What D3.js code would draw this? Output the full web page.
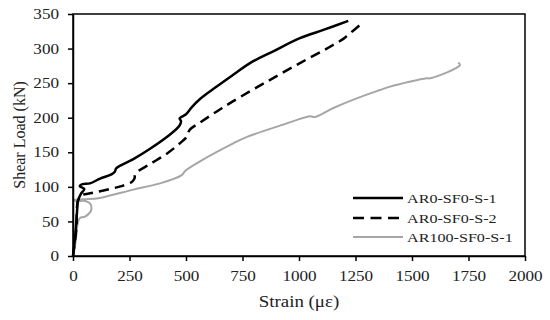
<!DOCTYPE html>
<html><head><meta charset="utf-8">
<script src="https://cdn.jsdelivr.net/npm/d3@7"></script>
<style>body{margin:0;background:#fff}svg{display:block}</style>
</head><body>
<svg id="c" width="550" height="320"></svg>
<script>
const xTicks = [0,250,500,750,1000,1250,1500,1750,2000];
const yTicks = [0,50,100,150,200,250,300,350];
const seriesNames = ["AR0-SF0-S-1","AR0-SF0-S-2","AR100-SF0-S-1"];
const s1Strain = [0,10,18,22,35,50,30,42,75,120,170,185,192,267,341,415,470,478,472,485,500,525,562,636,709,783,886,1004,1108,1218];
const s1Load   = [0,30,65,80,90,97,101,104,105,112,118,122,127,140,155,172,188,195,199,202,205,215,227,245,262,279,296,315,327,340];
const s2Strain = [0,15,22,40,83,164,215,260,272,276,341,415,473,505,515,562,636,709,857,1004,1123,1196,1218,1277];
const s2Load   = [0,40,80,88,91,97,101,107,112,119,133,148,163,173,182,193,209,224,252,279,300,314,320,336];
const s3Strain = [0,9,23,31,53,80,75,45,23,1,50,119,267,385,481,496,562,709,768,930,1049,1071,1152,1255,1358,1403,1565,1580,1712,1705];
const s3Load   = [0,14,50,55,57,66,76,80,79,81,82,84,96,105,117,123,137,163,172,190,202,201,214,228,240,245,257,257,276,280];

const svg = d3.select("#c");
const L=73,R=525,T=14,B=256;
const x = d3.scaleLinear().domain([0,2000]).range([L,R]);
const y = d3.scaleLinear().domain([0,350]).range([B,T]);
const font = "Liberation Serif, Times New Roman, serif";
function stretch(sel,k){
  sel.each(function(){
    const w=this.getComputedTextLength();
    d3.select(this).attr("textLength",w*k).attr("lengthAdjust","spacingAndGlyphs");
  });
}

const series = [
  {name:seriesNames[0], xs:s1Strain, ys:s1Load, color:"#000", w:2.5, dash:null},
  {name:seriesNames[1], xs:s2Strain, ys:s2Load, color:"#000", w:2.5, dash:"10,6"},
  {name:seriesNames[2], xs:s3Strain, ys:s3Load, color:"#a6a6a6", w:2, dash:null}
];
const line = d3.line().x(d=>x(d[0])).y(d=>y(d[1])).curve(d3.curveCatmullRom.alpha(0.5));
series.slice().reverse().forEach(s=>{
  svg.append("path").datum(s.xs.map((v,i)=>[v,s.ys[i]]))
    .attr("d",line).attr("fill","none").attr("stroke",s.color)
    .attr("stroke-width",s.w).attr("stroke-dasharray",s.dash)
    .attr("stroke-linejoin","round");
});

// frame
svg.append("rect").attr("x",L).attr("y",T).attr("width",R-L).attr("height",B-T)
  .attr("fill","none").attr("stroke","#000").attr("stroke-width",1.5);

const ax = svg.append("g").attr("transform",`translate(0,${B})`)
  .call(d3.axisBottom(x).tickValues(xTicks).tickFormat(d3.format("d")).tickSize(5).tickSizeOuter(0).tickPadding(10));
const ay = svg.append("g").attr("transform",`translate(${L},0)`)
  .call(d3.axisLeft(y).tickValues(yTicks).tickFormat(d3.format("d")).tickSize(5).tickSizeOuter(0).tickPadding(9));
[ax,ay].forEach(a=>{
  a.attr("font-family",font).attr("font-size",14.5);
  a.select(".domain").attr("stroke","#000").attr("stroke-width",1.5);
  a.selectAll(".tick line").attr("stroke","#000").attr("stroke-width",1.5);
  a.selectAll("text").attr("fill","#222").call(stretch,1.18);
});

svg.append("text").attr("x",(L+R)/2).attr("y",307).attr("text-anchor","middle")
  .attr("font-family",font).attr("font-size",16).attr("fill","#222").text("Strain (με)").call(stretch,1.18);
svg.append("text").attr("transform",`translate(25,${(T+B)/2}) rotate(-90)`).attr("text-anchor","middle")
  .attr("font-family",font).attr("font-size",16).attr("fill","#222").text("Shear Load (kN)");

// legend
const lg = svg.append("g");
const ly = [198,218,237];
series.forEach((s,i)=>{
  lg.append("line").attr("x1",353).attr("x2",403).attr("y1",ly[i]).attr("y2",ly[i])
    .attr("stroke",s.color).attr("stroke-width",s.w).attr("stroke-dasharray",s.dash?"11,6.5":null);
  lg.append("text").attr("x",407).attr("y",ly[i]+4.5).attr("font-family",font)
    .attr("font-size",13).attr("fill","#222").text(s.name).call(stretch,1.24);
});
</script>
</body></html>
